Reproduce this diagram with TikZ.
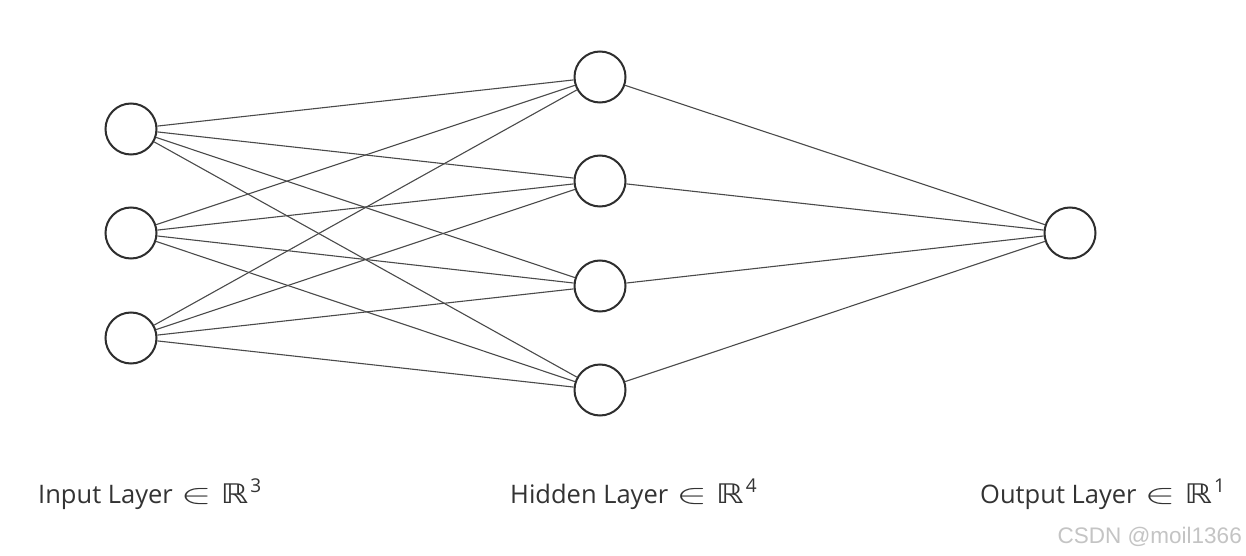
\documentclass[tikz,border=0pt]{standalone}
\usepackage{fontspec}
\usepackage{graphicx}
\setmainfont{Open Sans}
\newfontfamily\symfont{DejaVu Sans}
\newfontfamily\wmfont{Liberation Sans}
\definecolor{edgecol}{HTML}{4A4A4A}
\definecolor{ringcol}{HTML}{2E2E2E}
\definecolor{txtcol}{HTML}{333333}
\definecolor{wmcol}{HTML}{C4C4C4}
\newcommand{\inR}[1]{\hspace{8pt}\scalebox{1.85}[1.12]{$\in$}\hspace{9pt}\scalebox{1.3}[1.0]{\symfont\fontsize{27}{30}\selectfont ℝ}\hspace{2pt}\raisebox{10.5pt}{\fontsize{19}{19}\selectfont #1}}
\begin{document}
\begin{tikzpicture}[x=1pt,y=-1pt,
  neuron/.style={circle,draw=ringcol,line width=2pt,fill=white,minimum size=51pt,inner sep=0pt},
  conn/.style={draw=edgecol,line width=1.1pt},
  layerlabel/.style={anchor=base west,inner sep=0pt,text=txtcol,font=\fontsize{25.5}{30}\selectfont}]
\useasboundingbox (0,0) rectangle (1246,556);
\fill[white] (0,0) rectangle (1246,556);
\node[neuron] (i1) at (131,129) {};
\node[neuron] (i2) at (131,233) {};
\node[neuron] (i3) at (131,338) {};
\node[neuron] (h1) at (600,77) {};
\node[neuron] (h2) at (600,181) {};
\node[neuron] (h3) at (600,286) {};
\node[neuron] (h4) at (600,390) {};
\node[neuron] (o1) at (1070,233) {};
\foreach \i in {i1,i2,i3}{\foreach \h in {h1,h2,h3,h4}{\path[conn] (\i) -- (\h);}}
\foreach \h in {h1,h2,h3,h4}{\path[conn] (\h) -- (o1);}
\node[layerlabel] (l1) at (38,503) {Input Layer\inR{3}};
\node[layerlabel] (l2) at (510,503) {Hidden Layer\inR{4}};
\node[layerlabel] (l3) at (980,503) {Output Layer\inR{1}};
\node[anchor=base east,inner sep=0pt,text=wmcol,font=\wmfont\fontsize{22.5}{24}\selectfont] (wm) at (1242,543) {CSDN @moil1366};
\end{tikzpicture}
\end{document}
